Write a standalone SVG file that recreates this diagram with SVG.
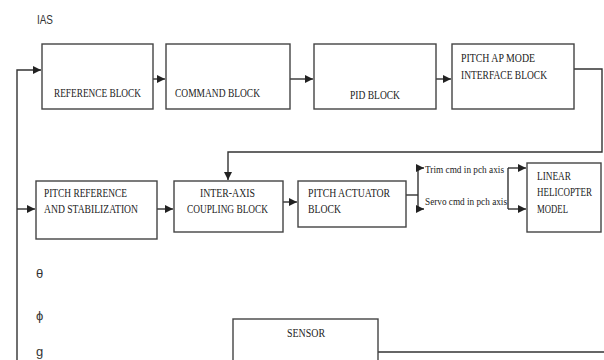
<svg xmlns="http://www.w3.org/2000/svg" width="604" height="360" viewBox="0 0 604 360">
<defs>
<marker id="ah" viewBox="0 0 8 8" refX="8" refY="4" markerWidth="8" markerHeight="8" markerUnits="userSpaceOnUse" orient="auto">
<path d="M0,0 L8,4 L0,8 Z" fill="#222"/>
</marker>
<style>
.box{fill:#fff;stroke:#444;stroke-width:1.4}
.t{font-family:"Liberation Serif",serif;font-size:12.5px;fill:#222}
.s{font-family:"Liberation Serif",serif;font-size:10px;fill:#222}
.g{font-family:"Liberation Sans",sans-serif;font-size:13px;fill:#333}
.c{fill:none;stroke:#333;stroke-width:1.4}
.a{marker-end:url(#ah)}
</style>
</defs>
<rect width="604" height="360" fill="#fff"/>
<text class="g" x="37" y="24" textLength="16" lengthAdjust="spacingAndGlyphs">IAS</text>
<text class="g" x="36" y="278">θ</text>
<text class="g" x="36" y="320">ϕ</text>
<text class="g" x="36" y="356">g</text>

<g id="connectors">
<path class="c a" d="M17,360 L17,70 L41,70"/>
<path class="c a" d="M17,209 L35,209"/>
<path class="c a" d="M153,79 L165,79"/>
<path class="c a" d="M290,79 L313,79"/>
<path class="c a" d="M436,79 L451,79"/>
<path class="c a" d="M574,69 L602,69 L602,152 L228,152 L228,180"/>
<path class="c a" d="M157,209 L173,209"/>
<path class="c a" d="M283,202 L297,202"/>
<path class="c" d="M406,195 L418,195"/>
<path class="c a" d="M418,195 L418,168 L424,168"/>
<path class="c a" d="M418,195 L418,209 L424,209"/>
<path class="c a" d="M508,168 L526,168"/>
<path class="c a" d="M508,209 L526,209"/>
<path class="c" d="M508,168 L508,209"/>
<path class="c" d="M378,352 L604,352"/>
</g>

<g id="reference">
<rect class="box" x="42" y="44" width="111" height="65"/>
<text class="t" x="54" y="97" textLength="87" lengthAdjust="spacingAndGlyphs">REFERENCE BLOCK</text>
</g>
<g id="command">
<rect class="box" x="166" y="44" width="124" height="65"/>
<text class="t" x="175" y="97" textLength="85" lengthAdjust="spacingAndGlyphs">COMMAND BLOCK</text>
</g>
<g id="pid">
<rect class="box" x="314" y="44" width="122" height="65"/>
<text class="t" x="350" y="99" textLength="50" lengthAdjust="spacingAndGlyphs">PID BLOCK</text>
</g>
<g id="pitchap">
<rect class="box" x="452" y="44" width="122" height="65"/>
<text class="t" x="461" y="62" textLength="74" lengthAdjust="spacingAndGlyphs">PITCH AP  MODE</text>
<text class="t" x="461" y="79" textLength="86" lengthAdjust="spacingAndGlyphs">INTERFACE BLOCK</text>
</g>
<g id="pitchref">
<rect class="box" x="36" y="181" width="121" height="58"/>
<text class="t" x="44" y="197" textLength="83" lengthAdjust="spacingAndGlyphs">PITCH REFERENCE</text>
<text class="t" x="44" y="213" textLength="94" lengthAdjust="spacingAndGlyphs">AND STABILIZATION</text>
</g>
<g id="interaxis">
<rect class="box" x="174" y="181" width="109" height="51"/>
<text class="t" x="200" y="197" textLength="55" lengthAdjust="spacingAndGlyphs">INTER-AXIS</text>
<text class="t" x="187" y="213" textLength="81" lengthAdjust="spacingAndGlyphs">COUPLING BLOCK</text>
</g>
<g id="actuator">
<rect class="box" x="298" y="181" width="108" height="46"/>
<text class="t" x="308" y="197" textLength="82" lengthAdjust="spacingAndGlyphs">PITCH ACTUATOR</text>
<text class="t" x="308" y="213" textLength="33" lengthAdjust="spacingAndGlyphs">BLOCK</text>
</g>
<g id="labels">
<text class="s" x="425" y="173" textLength="79" lengthAdjust="spacingAndGlyphs">Trim cmd in pch axis</text>
<text class="s" x="425" y="205" textLength="82" lengthAdjust="spacingAndGlyphs">Servo cmd in pch axis</text>
</g>
<g id="helicopter">
<rect class="box" x="527" y="163" width="74" height="69"/>
<text class="t" x="537" y="180" textLength="34" lengthAdjust="spacingAndGlyphs">LINEAR</text>
<text class="t" x="537" y="196" textLength="55" lengthAdjust="spacingAndGlyphs">HELICOPTER</text>
<text class="t" x="537" y="213" textLength="31" lengthAdjust="spacingAndGlyphs">MODEL</text>
</g>
<g id="sensor">
<rect class="box" x="233" y="319" width="145" height="50"/>
<text class="t" x="287" y="337" textLength="38" lengthAdjust="spacingAndGlyphs">SENSOR</text>
</g>
</svg>
